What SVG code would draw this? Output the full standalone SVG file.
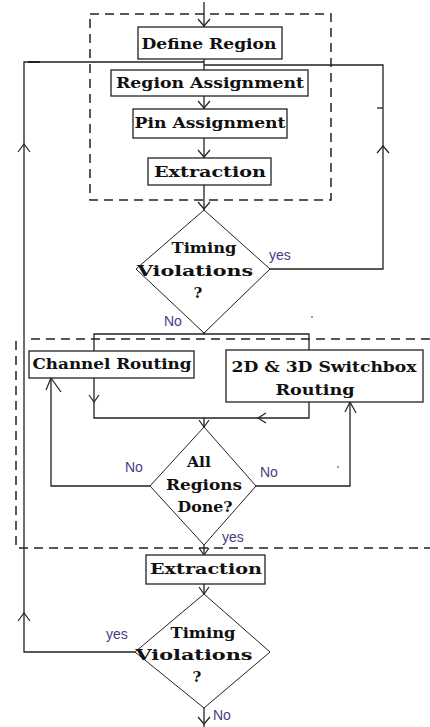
<svg xmlns="http://www.w3.org/2000/svg" width="430" height="727" viewBox="0 0 430 727">
<style>
.bg{fill:#fff}
.box{fill:#fff;stroke:#222;stroke-width:1.3}
.dia{fill:#fff;stroke:#222;stroke-width:1}
.ln{fill:none;stroke:#222;stroke-width:1.3}
.ah{fill:none;stroke:#222;stroke-width:1.2}
.dash{fill:none;stroke:#222;stroke-width:1.5;stroke-dasharray:9,6}
.t{font-family:"DejaVu Serif","Liberation Serif",serif;font-weight:bold;font-size:15px;fill:#111;text-anchor:middle}
.lb{font-family:"Liberation Sans","DejaVu Sans",sans-serif;font-size:14px;fill:#4b3a86}
</style>
<rect class="bg" x="0" y="0" width="430" height="727"/>
<rect class="dash" x="90" y="14" width="241" height="186"/>
<path class="dash" d="M430,339 H28 M16,341 V548 H430"/>
<g id="connectors">
<path class="ln" d="M204,2 V27"/>
<path class="ah" d="M198,19 L204,26 L210,19"/>
<path class="ln" d="M204,59 V70"/>
<path class="ln" d="M204,96 V109"/>
<path class="ah" d="M198,101 L204,108 L210,101"/>
<path class="ln" d="M204,138 V158"/>
<path class="ah" d="M198,150 L204,157 L210,150"/>
<path class="ln" d="M204,185 V210"/>
<path class="ah" d="M198,202 L204,209 L210,202"/>
<path class="ln" d="M270,269 H383 V65 H204"/>
<path class="ah" d="M377,153 L383,146 L389,153"/>
<path class="ln" d="M377,108 H383"/>
<path class="ln" d="M204,333 V334"/>
<path class="ah" d="M198,326 L204,333 L210,326"/>
<path class="ln" d="M94,351 V334 H309 V350"/>
<path class="ln" d="M94,378 V418 H309 V402"/>
<path class="ah" d="M89,395 L94,402 L99,395"/>
<path class="ah" d="M266,413 L258,418 L266,423"/>
<path class="ln" d="M204,418 V427"/>
<path class="ah" d="M199,420 L204,427 L209,420"/>
<path class="ln" d="M150,486 H51 V378"/>
<path class="ah" d="M46,390 L51,378 L61,392"/>
<path class="ln" d="M256,486 H350 V402"/>
<path class="ah" d="M345,412 L350,402 L356,413"/>
<path class="ln" d="M204,545 V555"/>
<path class="ah" d="M199,548 L204,555 L209,548"/>
<path class="ln" d="M204,584 V594"/>
<path class="ah" d="M199,587 L204,594 L209,587"/>
<path class="ln" d="M204,708 V727"/>
<path class="ah" d="M198,717 L204,724 L210,717"/>
<path class="ln" d="M135,652 H24 V62 H204"/>
<path class="ln" d="M28,62 H40" style="stroke-width:2"/>
<path class="ah" d="M18,621 L24,613 L30,621"/>
<path class="ah" d="M18,152 L24,144 L30,152"/>
<circle cx="312" cy="317" r="0.8" fill="#222"/>
<circle cx="338" cy="467" r="0.8" fill="#222"/>
</g>
<g id="define-region"><rect class="box" x="138" y="27" width="144" height="32"/><text class="t" x="209" y="49" textLength="135" lengthAdjust="spacingAndGlyphs">Define Region</text></g>
<g id="region-assignment"><rect class="box" x="111" y="70" width="197" height="26"/><text class="t" x="210" y="88" textLength="188" lengthAdjust="spacingAndGlyphs">Region Assignment</text></g>
<g id="pin-assignment"><rect class="box" x="133" y="109" width="154" height="29"/><text class="t" x="210" y="128" textLength="151" lengthAdjust="spacingAndGlyphs">Pin Assignment</text></g>
<g id="extraction-1"><rect class="box" x="148" y="158" width="123" height="27"/><text class="t" x="210" y="177" textLength="112" lengthAdjust="spacingAndGlyphs">Extraction</text></g>
<g id="timing-1"><polygon class="dia" points="204,210 270,269 204,333 136,269"/>
<text class="t" x="204" y="253" textLength="65" lengthAdjust="spacingAndGlyphs">Timing</text>
<text class="t" x="195" y="276" textLength="116" lengthAdjust="spacingAndGlyphs">Violations</text>
<text class="t" x="198" y="298">?</text></g>
<text class="lb" x="269" y="260">yes</text>
<text class="lb" x="164" y="326">No</text>
<g id="channel-routing"><rect class="box" x="29" y="351" width="165" height="27"/><text class="t" x="112" y="369" textLength="159" lengthAdjust="spacingAndGlyphs">Channel Routing</text></g>
<g id="switchbox-routing"><rect class="box" x="226" y="350" width="197" height="52"/><text class="t" x="324" y="372" textLength="185" lengthAdjust="spacingAndGlyphs">2D &amp; 3D Switchbox</text><text class="t" x="315" y="395" textLength="79" lengthAdjust="spacingAndGlyphs">Routing</text></g>
<g id="all-regions-done"><polygon class="dia" points="204,427 256,486 204,545 150,486"/>
<text class="t" x="199" y="467" textLength="24" lengthAdjust="spacingAndGlyphs">All</text>
<text class="t" x="204" y="490" textLength="76" lengthAdjust="spacingAndGlyphs">Regions</text>
<text class="t" x="205" y="512" textLength="55" lengthAdjust="spacingAndGlyphs">Done?</text></g>
<text class="lb" x="125" y="472">No</text>
<text class="lb" x="260" y="477">No</text>
<text class="lb" x="222" y="542">yes</text>
<g id="extraction-2"><rect class="box" x="146" y="555" width="119" height="29"/><text class="t" x="206" y="574" textLength="112" lengthAdjust="spacingAndGlyphs">Extraction</text></g>
<g id="timing-2"><polygon class="dia" points="204,594 270,652 204,708 135,652"/>
<text class="t" x="203" y="638" textLength="65" lengthAdjust="spacingAndGlyphs">Timing</text>
<text class="t" x="194" y="660" textLength="117" lengthAdjust="spacingAndGlyphs">Violations</text>
<text class="t" x="197" y="682">?</text></g>
<text class="lb" x="106" y="639">yes</text>
<text class="lb" x="213" y="720">No</text>
</svg>
